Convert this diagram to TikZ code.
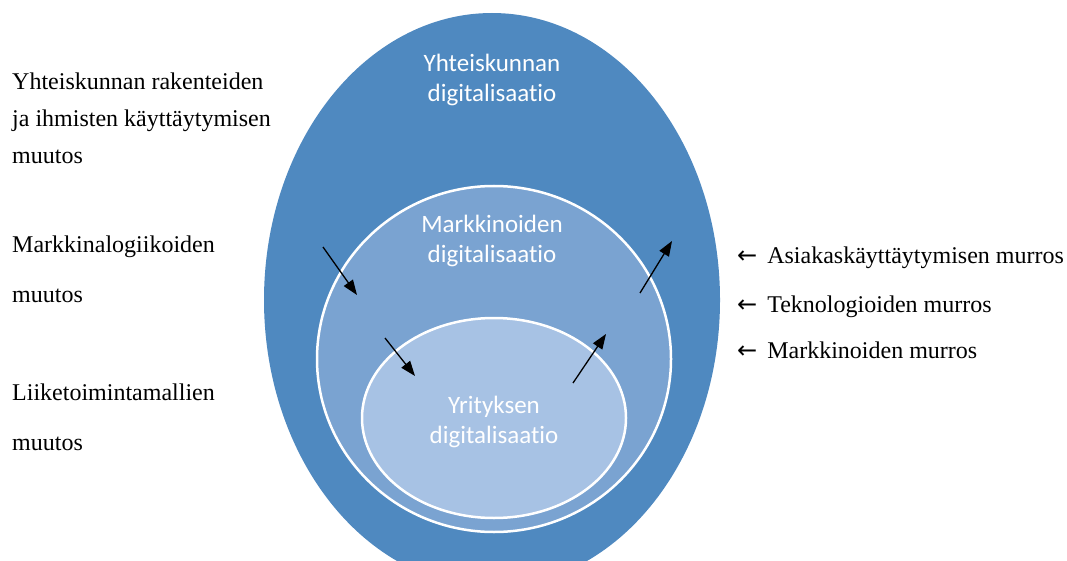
\documentclass[tikz,border=0pt]{standalone}
\usepackage{fontspec}
\setmainfont{Liberation Serif}
\newfontfamily\calibri[Ligatures=NoCommon]{Carlito}
\newfontfamily\arrowfont{DejaVu Sans}
\usetikzlibrary{shapes.geometric,arrows.meta}

\definecolor{outerblue}{RGB}{79,137,192}
\definecolor{midblue}{RGB}{122,163,209}
\definecolor{innerblue}{RGB}{167,194,228}

\newcommand{\backarrow}{{\arrowfont ←}\hspace{10pt}}

\begin{document}
\begin{tikzpicture}[x=1pt,y=-1pt,>={Triangle[length=15pt,width=11pt]}]
    \tikzstyle{level}=[ellipse,inner sep=0pt,draw=white,line width=2.5pt]
    \tikzstyle{level text}=[text=white,font=\calibri\fontsize{25}{30}\selectfont,align=center,inner sep=0pt,anchor=base]
    \tikzstyle{side}=[font=\fontsize{24}{37}\selectfont,align=left,anchor=base west,inner sep=0pt]
    \tikzstyle{flow}=[->,line width=1.3pt]
    \useasboundingbox (0,0) rectangle (1067,561);
    % nested levels
    \node[level,draw=none,fill=outerblue,minimum width=456pt,minimum height=574pt] (society) at (492,300) {};
    \node[level,fill=midblue,minimum width=354pt,minimum height=346pt] (market) at (494,359) {};
    \node[level,fill=innerblue,minimum width=264pt,minimum height=200pt] (firm) at (494,418) {};
    % base of a two-line node sits on its last line
    \node[level text] (society-t) at (492,102) {Yhteiskunnan\\digitalisaatio};
    \node[level text] (market-t) at (492,262) {Markkinoiden\\digitalisaatio};
    \node[level text] (firm-t) at (494,443) {Yrityksen\\digitalisaatio};
    % influences in and out
    \coordinate (in1a) at (323,247);  \coordinate (in1b) at (357,295);
    \coordinate (in2a) at (385,338);  \coordinate (in2b) at (415,376);
    \coordinate (out1a) at (573,383); \coordinate (out1b) at (606,334);
    \coordinate (out2a) at (640,293); \coordinate (out2b) at (672,241);
    \draw[flow] (in1a) -- (in1b);
    \draw[flow] (in2a) -- (in2b);
    \draw[flow] (out1a) -- (out1b);
    \draw[flow] (out2a) -- (out2b);
    % left labels
    \node[side] (change1) at (12,164) {Yhteiskunnan rakenteiden\\ja ihmisten käyttäytymisen\\muutos};
    \node[side,font=\fontsize{24}{50}\selectfont] (change2) at (12,302) {Markkinalogiikoiden\\muutos};
    \node[side,font=\fontsize{24}{50}\selectfont] (change3) at (12,450) {Liiketoimintamallien\\muutos};
    % right labels
    \node[side] (break1) at (737,263) {\backarrow Asiakaskäyttäytymisen murros};
    \node[side] (break2) at (737,312) {\backarrow Teknologioiden murros};
    \node[side] (break3) at (737,358) {\backarrow Markkinoiden murros};
\end{tikzpicture}
\end{document}
